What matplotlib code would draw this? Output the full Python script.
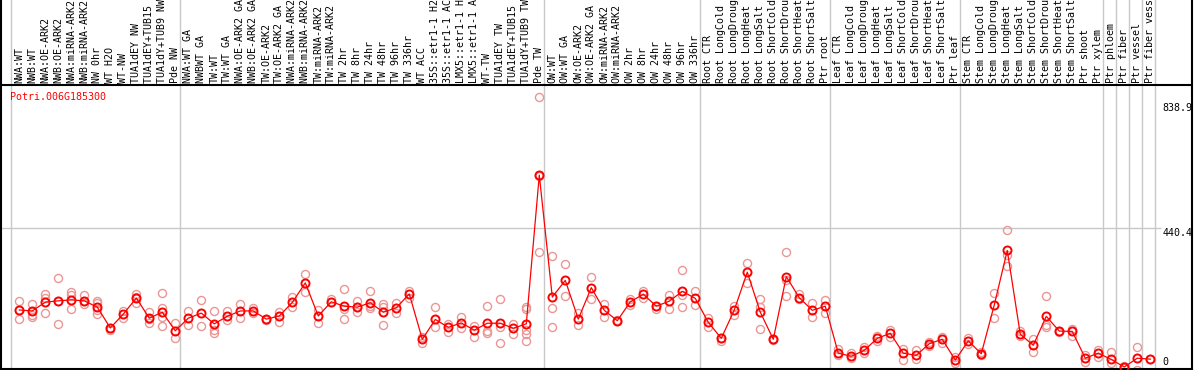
import matplotlib.pyplot as plt

gene = "Potri.006G185300"

labels = [
    "NWA:WT", "NWB:WT", "NWA:OE-ARK2", "NWB:OE-ARK2", "NWA:miRNA-ARK2", "NWB:miRNA-ARK2",
    "NW 0hr", "WT H2O", "WT-NW", "TUA1dEY NW", "TUA1dEY+TUB15 NW", "TUA1dY+TUB9 NW", "Pde NW",
    "NWA:WT GA", "NWBWT GA", "TW:WT", "TW:WT GA", "NWA:OE-ARK2 GA", "NWB:OE-ARK2 GA",
    "TW:OE-ARK2", "TW:OE-ARK2 GA", "NWA:miRNA-ARK2 GA", "NWB:miRNA-ARK2 GA",
    "TW:miRNA-ARK2", "TW:miRNA-ARK2 GA", "TW 2hr", "TW 8hr", "TW 24hr", "TW 48hr", "TW 96hr",
    "TW 336hr", "WT ACC", "35S::etr1-1 H2O", "35S::etr1-1 ACC", "LMX5::etr1-1 H2O",
    "LMX5::etr1-1 ACC", "WT-TW", "TUA1dEY TW", "TUA1dEY+TUB15 TW", "TUA1dY+TUB9 TW", "Pde TW",
    "OW:WT", "OW:WT GA", "OW:OE-ARK2", "OW:OE-ARK2 GA", "OW:miRNA-ARK2", "OW:miRNA-ARK2 GA",
    "OW 2hr", "OW 8hr", "OW 24hr", "OW 48hr", "OW 96hr", "OW 336hr",
    "Root CTR", "Root LongCold", "Root LongDrought", "Root LongHeat", "Root LongSalt",
    "Root ShortCold", "Root ShortDrought", "Root ShortHeat", "Root ShortSalt", "Ptr root",
    "Leaf CTR", "Leaf LongCold", "Leaf LongDrought", "Leaf LongHeat", "Leaf LongSalt",
    "Leaf ShortCold", "Leaf ShortDrought", "Leaf ShortHeat", "Leaf ShortSalt", "Ptr leaf",
    "Stem CTR", "Stem LongCold", "Stem LongDrought", "Stem LongHeat", "Stem LongSalt",
    "Stem ShortCold", "Stem ShortDrought", "Stem ShortHeat", "Stem ShortSalt",
    "Ptr shoot", "Ptr xylem", "Ptr phloem", "Ptr fiber", "Ptr vessel", "Ptr fiber vessel",
]

means = [
    181, 178, 206, 210, 213, 210, 190, 124, 168, 219, 155, 174, 115,
    155, 171, 137, 161, 178, 178, 152, 162, 205, 267, 162, 207, 193, 190, 204, 174, 188,
    232, 88, 151, 126, 140, 117, 139, 139, 123, 137, 609,
    222, 275, 152, 252, 180, 147, 207, 231, 193, 209, 240, 218,
    142, 91, 181, 301, 174, 88, 287, 220, 180, 193,
    44, 34, 53, 91, 107, 44, 37, 74, 88, 22,
    83, 42, 197, 370, 104, 69, 161, 114, 113, 28, 44,
    24, 0, 28, 25,
]

reps = [
    [210, 151, 181], [200, 165, 160], [231, 220, 170], [283, 137, 210], [238, 229, 183],
    [230, 199, 210], [210, 203, 181, 167], [124, 118], [177, 155], [231, 204, 222],
    [174, 139, 152], [235, 188, 160, 130], [139, 91],
    [178, 133], [213, 130], [178, 117, 107], [178, 149], [200, 155], [186, 170],
    [152, 149], [176, 144], [223, 190], [294, 237], [181, 141], [216, 206],
    [248, 183, 151], [210, 176, 190], [241, 188, 194], [200, 191, 133], [202, 170],
    [242, 218], [96, 77], [190, 128], [137, 110], [159, 123], [131, 94],
    [194, 115, 109], [216, 126, 76], [137, 104], [191, 183, 117, 105, 83], [857, 364, 606],
    [351, 186, 127], [326, 225], [170, 133], [285, 216], [200, 158], [147, 150],
    [216, 198], [242, 220], [193, 185], [230, 183], [307, 229, 190], [240, 196],
    [155, 127], [83, 92], [195, 166], [329, 266], [216, 191, 120], [88, 86],
    [364, 276, 225], [232, 216], [204, 158], [213, 172],
    [56, 38], [44, 28], [63, 43], [99, 82], [117, 96], [56, 22], [54, 26], [80, 67],
    [96, 77], [33, 12],
    [91, 73], [48, 38], [236, 155], [434, 355, 320], [114, 98], [89, 47],
    [225, 133, 126], [114, 110], [120, 99], [39, 17], [54, 33],
    [47, 14], [3, -3], [63, -8], [25],
]

# last column (1-based) of each group, grid line drawn just right of it
group_ends = [0, 13, 41, 53, 63, 73, 84, 85, 86, 87, 88]
y_marks = [0, 440.4, 838.9]

plt.rcParams['font.family'] = ['DejaVu Sans Mono']
fig = plt.figure(figsize=(11.94, 3.70), dpi=100)
ax = fig.add_axes([1 / 1194, 1 / 370, 1191 / 1194, 369 / 370])
ax.set_xlim(-1.408, 90.21)
ax.set_ylim(-6.3, 1165)
ax.set_xticks([])
ax.set_yticks([])
ax.spines['top'].set_visible(False)
for s in ['left', 'right', 'bottom']:
    ax.spines[s].set_linewidth(1.5)

grey = '#c8c8c8'
for g in group_ends:
    ax.axvline(g - 1 + 5 / 13, color=grey, lw=1, zorder=0)
ax.hlines(440.4, -1.5, 87.8, color=grey, lw=1, zorder=0)

# header separator
ax.axhline(895.2, color='black', lw=1.5)

x = list(range(len(means)))
for j, r in enumerate(reps):
    ax.plot([j] * len(r), r, 'o', mfc='none', mec='#eb9696', ms=5.8, mew=1.0, zorder=2)
ax.plot(x, means, '-o', color='red', lw=0.9, mfc='none', mec='red', ms=5.8, mew=1.4, zorder=3)

for j, lab in enumerate(labels):
    ax.text(j, 901, lab, rotation=90, ha='center', va='bottom', fontsize=7.2, color='black')

ax.text(-0.7, 857, gene, color='red', fontsize=7.2, ha='left', va='center')

for v in y_marks:
    va = 'bottom' if v == 0 else 'top'
    ax.text(87.94, v, f"{v:g}", fontsize=7.2, ha='left', va=va, color='black')

fig.savefig('out.png', dpi=100)
